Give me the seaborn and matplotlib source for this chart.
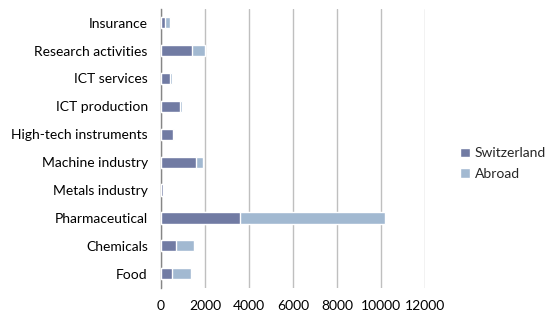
import matplotlib
matplotlib.use("Agg")
import matplotlib.pyplot as plt
import seaborn as sns
import pandas as pd
import numpy as np

categories = ["Insurance", "Research activities", "ICT services", "ICT production",
              "High-tech instruments", "Machine industry", "Metals industry",
              "Pharmaceutical", "Chemicals", "Food"]
switzerland = [180, 1400, 400, 860, 550, 1580, 70, 3580, 700, 500]
abroad = [250, 600, 120, 110, 60, 320, 30, 6570, 800, 860]
xticks = [0, 2000, 4000, 6000, 8000, 10000, 12000]

sns.set_style("white")
plt.rcParams['font.family'] = ['Lato', 'DejaVu Sans']

df = pd.DataFrame({"category": categories,
                   "Switzerland": switzerland,
                   "Abroad": abroad})
df["total"] = df["Switzerland"] + df["Abroad"]

c_sw = "#717BA3"
c_ab = "#A2B9D1"

fig = plt.figure(figsize=(5.45, 3.18), dpi=100)
ax = fig.add_axes([0.2954, 0.0953, 0.4850, 0.8773])

sns.barplot(data=df, y="category", x="total", order=categories, color=c_ab,
            width=0.4, ax=ax, saturation=1, label="Abroad")
sns.barplot(data=df, y="category", x="Switzerland", order=categories, color=c_sw,
            width=0.4, ax=ax, saturation=1, label="Switzerland")
for p in ax.patches:
    p.set_zorder(3)

ax.set_xlim(0, 12000)
ax.set_ylim(len(categories) - 0.5, -0.5)
ax.set_xticks(xticks)
ax.set_xticklabels([str(v) for v in xticks])
ax.set_xlabel("")
ax.set_ylabel("")
ax.grid(axis="x", color="#BFBFBF", linewidth=1)
ax.set_axisbelow(True)
for s in ["top", "right", "bottom"]:
    ax.spines[s].set_visible(False)
ax.spines["left"].set_color("#868686")
ax.spines["left"].set_linewidth(1)
ax.spines["left"].set_zorder(2)

ax.set_yticks(np.arange(len(categories) + 1) - 0.5, minor=True)
ax.tick_params(axis="y", which="minor", length=4, color="#868686", width=1, direction="out")
ax.tick_params(axis="y", which="major", length=0, pad=9.5, labelsize=10, labelcolor="black")
ax.tick_params(axis="x", length=0, pad=9, labelsize=10, labelcolor="black")

handles, labels = ax.get_legend_handles_labels()
order = [labels.index("Switzerland"), labels.index("Abroad")]
leg = fig.legend([handles[i] for i in order], [labels[i] for i in order],
                 loc="center left", bbox_to_anchor=(460 / 545, 1 - 163.5 / 318),
                 frameon=False, fontsize=10, handlelength=0.7, handleheight=0.7,
                 handletextpad=0.37, labelspacing=0.58, borderpad=0, borderaxespad=0)
if ax.get_legend() is not None:
    ax.get_legend().remove()

fig.savefig("out.png", dpi=100)
